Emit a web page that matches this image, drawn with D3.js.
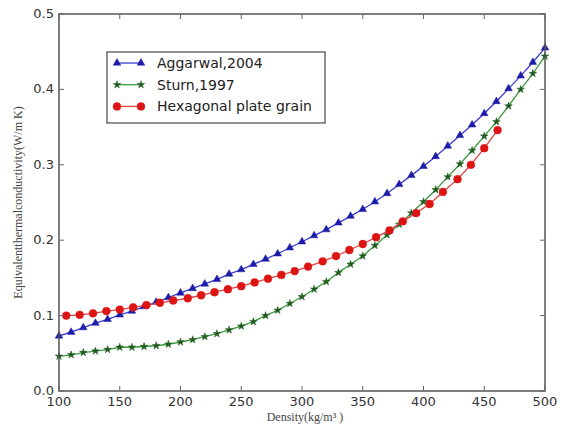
<!DOCTYPE html>
<html>
<head>
<meta charset="utf-8">
<script src="https://cdn.jsdelivr.net/npm/d3@7"></script>
<style>
  body { margin: 0; background: #fff; }
  svg { display: block; }
</style>
</head>
<body>
<script>
// data
var aggDensity = [100,110,120,130,140,150,160,170,180,190,200,210,220,230,240,250,260,270,280,290,300,
                  310,320,330,340,350,360,370,380,390,400,410,420,430,440,450,460,470,480,490,500];
var aggK = [0.073,0.078,0.084,0.090,0.095,0.101,0.106,0.112,0.118,0.124,0.130,0.136,0.142,0.148,0.155,0.161,
            0.168,0.175,0.182,0.190,0.198,0.206,0.214,0.223,0.232,0.241,0.251,0.262,0.274,0.286,0.298,0.311,
            0.325,0.339,0.353,0.368,0.384,0.401,0.418,0.436,0.455];

var sturnDensity = aggDensity;
var sturnK = [0.046,0.048,0.051,0.053,0.055,0.058,0.058,0.059,0.060,0.062,0.065,0.068,0.072,0.076,0.081,0.086,
              0.092,0.100,0.107,0.116,0.125,0.135,0.145,0.157,0.168,0.179,0.193,0.207,0.221,0.236,0.251,0.267,
              0.284,0.301,0.319,0.338,0.357,0.378,0.400,0.421,0.444];

var hexDensity = [106,117,128,139,150,161,172,183,194,206,217,228,239,250,261,272,283,294,305,317,328,
                  339,350,361,372,383,394,405,416,428,439,450,461];
var hexK = [0.100,0.101,0.103,0.106,0.108,0.111,0.114,0.117,0.120,0.123,0.127,0.131,0.135,0.139,0.144,0.149,
            0.154,0.159,0.165,0.172,0.179,0.187,0.195,0.204,0.213,0.225,0.236,0.248,0.264,0.281,0.300,0.322,0.346];

var seriesNames = ["Aggarwal,2004", "Sturn,1997", "Hexagonal plate grain"];
var xTicks = [100,150,200,250,300,350,400,450,500];
var yTicks = [0.0,0.1,0.2,0.3,0.4,0.5];

var width = 563, height = 425;
var plotL = 59, plotR = 545, plotT = 14, plotB = 391;

var x = d3.scaleLinear().domain([100, 500]).range([plotL, plotR]);
var y = d3.scaleLinear().domain([0, 0.5]).range([plotB, plotT]);

var svg = d3.select("body").append("svg")
    .attr("width", width)
    .attr("height", height);

var series = [
    { name: seriesNames[0], xs: aggDensity, ys: aggK, line: "#3a3ad0", fill: "#1c1ca8", marker: "triangle" },
    { name: seriesNames[1], xs: sturnDensity, ys: sturnK, line: "#3f9a3f", fill: "#1f5a1f", marker: "star" },
    { name: seriesNames[2], xs: hexDensity, ys: hexK, line: "#e04040", fill: "#dd1414", marker: "circle" }
];

function markerPath(kind) {
    if (kind == "triangle") return d3.symbol().type(d3.symbolTriangle).size(25)();
    if (kind == "star") return d3.symbol().type(d3.symbolStar).size(18)();
    return d3.symbol().type(d3.symbolCircle).size(48)();
}

var line = d3.line()
    .x(function(d) { return x(d[0]); })
    .y(function(d) { return y(d[1]); });

series.forEach(function(s) {
    var pts = s.xs.map(function(v, i) { return [v, s.ys[i]]; });
    svg.append("path")
        .attr("d", line(pts))
        .attr("fill", "none")
        .attr("stroke", s.line)
        .attr("stroke-width", 1.3);
    svg.append("g").selectAll("path")
        .data(pts)
        .enter().append("path")
        .attr("d", markerPath(s.marker))
        .attr("transform", function(d) { return "translate(" + x(d[0]) + "," + y(d[1]) + ")"; })
        .attr("fill", s.fill)
        .attr("stroke", s.fill)
        .attr("stroke-width", 0.5);
});

// frame + inward ticks on all sides
svg.append("rect")
    .attr("x", plotL).attr("y", plotT)
    .attr("width", plotR - plotL).attr("height", plotB - plotT)
    .attr("fill", "none")
    .attr("stroke", "#555")
    .attr("stroke-width", 1.5);

var tickColor = "#666";
xTicks.forEach(function(t) {
    svg.append("line").attr("x1", x(t)).attr("x2", x(t)).attr("y1", plotB).attr("y2", plotB - 5)
        .attr("stroke", tickColor).attr("stroke-width", 1);
    svg.append("line").attr("x1", x(t)).attr("x2", x(t)).attr("y1", plotT).attr("y2", plotT + 5)
        .attr("stroke", tickColor).attr("stroke-width", 1);
    svg.append("text")
        .attr("x", x(t)).attr("y", plotB + 15)
        .attr("text-anchor", "middle")
        .attr("font-family", "DejaVu Sans")
        .attr("font-size", 13)
        .attr("fill", "#333")
        .text(t);
});
yTicks.forEach(function(t) {
    svg.append("line").attr("x1", plotL).attr("x2", plotL + 5).attr("y1", y(t)).attr("y2", y(t))
        .attr("stroke", tickColor).attr("stroke-width", 1);
    svg.append("line").attr("x1", plotR).attr("x2", plotR - 5).attr("y1", y(t)).attr("y2", y(t))
        .attr("stroke", tickColor).attr("stroke-width", 1);
    svg.append("text")
        .attr("x", plotL - 5).attr("y", y(t) + 4)
        .attr("text-anchor", "end")
        .attr("font-family", "DejaVu Sans")
        .attr("font-size", 13)
        .attr("fill", "#333")
        .text(t.toFixed(1));
});

// axis titles
svg.append("text")
    .attr("transform", "translate(22," + (plotT + plotB) / 2 + ") rotate(-90)")
    .attr("text-anchor", "middle")
    .attr("font-family", "Liberation Serif")
    .attr("font-size", 12)
    .attr("fill", "#444")
    .text("Equivalentthermalconductivity(W/m K)");

svg.append("text")
    .attr("x", 305).attr("y", 421)
    .attr("text-anchor", "middle")
    .attr("font-family", "Liberation Serif")
    .attr("font-size", 12)
    .attr("fill", "#444")
    .text("Density(kg/m\u00B3 )");

// legend
var lg = svg.append("g");
lg.append("rect")
    .attr("x", 107).attr("y", 52)
    .attr("width", 218).attr("height", 71)
    .attr("fill", "#fff")
    .attr("stroke", "#555")
    .attr("stroke-width", 1.3);
series.forEach(function(s, i) {
    var ly = 63 + i * 21.7;
    lg.append("line").attr("x1", 117).attr("x2", 141).attr("y1", ly).attr("y2", ly)
        .attr("stroke", s.line).attr("stroke-width", 1.3);
    [117, 141].forEach(function(mx) {
        lg.append("path")
            .attr("d", markerPath(s.marker))
            .attr("transform", "translate(" + mx + "," + ly + ")")
            .attr("fill", s.fill).attr("stroke", s.fill).attr("stroke-width", 0.5);
    });
    lg.append("text")
        .attr("x", 157).attr("y", ly + 5)
        .attr("font-family", "DejaVu Sans")
        .attr("font-size", 14)
        .attr("fill", "#222")
        .text(s.name);
});
</script>
</body>
</html>
